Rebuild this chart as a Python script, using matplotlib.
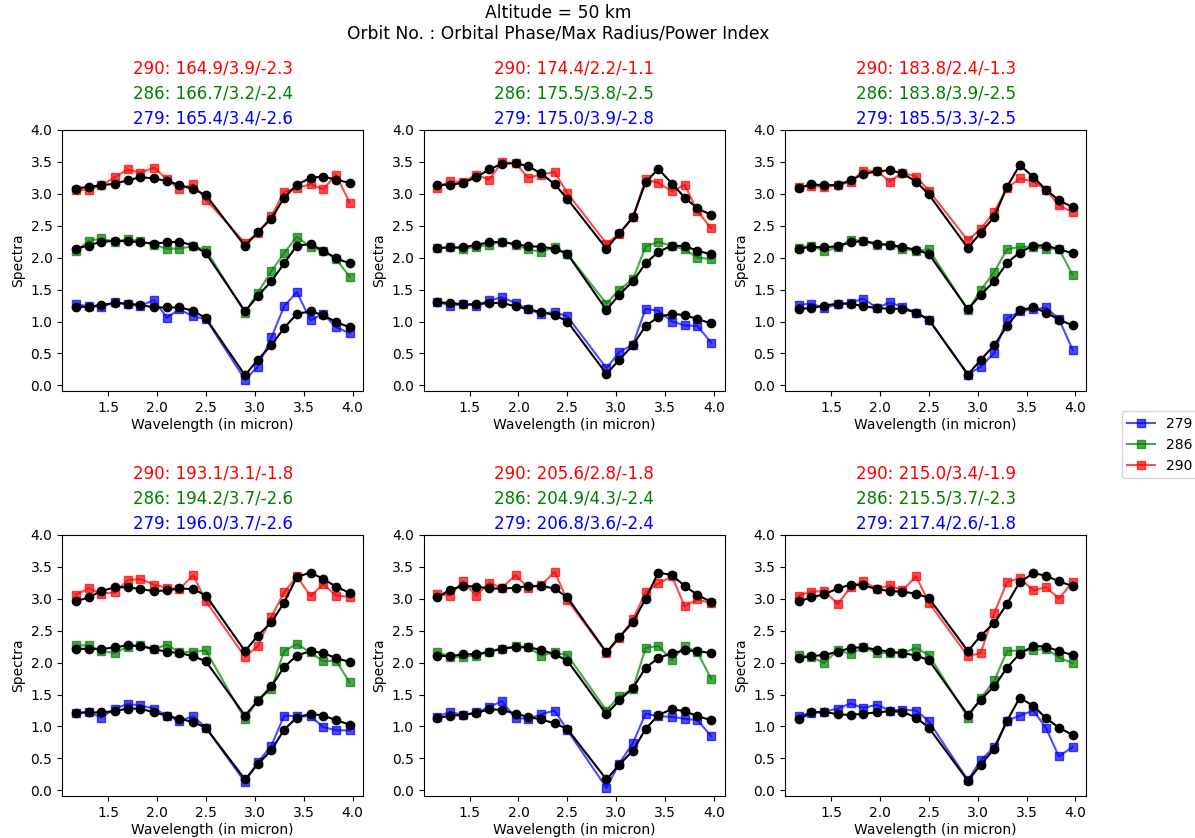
#!/usr/bin/env python3

import numpy as np
import matplotlib
matplotlib.use("Agg")
import matplotlib.pyplot as plt


wavelength = [1.17, 1.30, 1.43, 1.57, 1.70, 1.83, 1.97, 2.10, 2.23, 2.37, 2.50,
              2.90, 3.03, 3.17, 3.30, 3.43, 3.57, 3.70, 3.83, 3.97]

orbits = ["279", "286", "290"]
colors = ["blue", "green", "red"]

# title text per panel, order: 290, 286, 279
titles = [
    ["290: 164.9/3.9/-2.3", "286: 166.7/3.2/-2.4", "279: 165.4/3.4/-2.6"],
    ["290: 174.4/2.2/-1.1", "286: 175.5/3.8/-2.5", "279: 175.0/3.9/-2.8"],
    ["290: 183.8/2.4/-1.3", "286: 183.8/3.9/-2.5", "279: 185.5/3.3/-2.5"],
    ["290: 193.1/3.1/-1.8", "286: 194.2/3.7/-2.6", "279: 196.0/3.7/-2.6"],
    ["290: 205.6/2.8/-1.8", "286: 204.9/4.3/-2.4", "279: 206.8/3.6/-2.4"],
    ["290: 215.0/3.4/-1.9", "286: 215.5/3.7/-2.3", "279: 217.4/2.6/-1.8"],
]

# observed spectra per panel: [279, 286, 290]
obs_1 = [
    [1.27, 1.24, 1.23, 1.30, 1.27, 1.24, 1.34, 1.06, 1.19, 1.08, 1.04, 0.09, 0.29, 0.75, 1.24, 1.46, 1.02, 1.12, 0.91, 0.82],
    [2.10, 2.26, 2.30, 2.25, 2.29, 2.26, 2.20, 2.14, 2.14, 2.18, 2.12, 1.14, 1.45, 1.79, 2.07, 2.33, 2.16, 2.11, 1.98, 1.70],
    [3.06, 3.06, 3.13, 3.26, 3.38, 3.33, 3.41, 3.23, 3.07, 3.15, 2.91, 2.23, 2.38, 2.65, 3.03, 3.09, 3.15, 3.07, 3.30, 2.86],
]
fit_1 = [
    [1.23, 1.23, 1.26, 1.29, 1.28, 1.26, 1.22, 1.22, 1.22, 1.17, 1.05, 0.16, 0.40, 0.63, 0.90, 1.12, 1.16, 1.10, 0.99, 0.91],
    [2.14, 2.19, 2.25, 2.26, 2.26, 2.24, 2.22, 2.24, 2.25, 2.19, 2.07, 1.16, 1.40, 1.63, 1.91, 2.19, 2.21, 2.11, 1.99, 1.91],
    [3.08, 3.11, 3.13, 3.16, 3.21, 3.26, 3.24, 3.20, 3.14, 3.07, 2.98, 2.18, 2.40, 2.61, 2.94, 3.14, 3.25, 3.27, 3.22, 3.17],
]

obs_2 = [
    [1.31, 1.25, 1.27, 1.25, 1.33, 1.38, 1.29, 1.19, 1.12, 1.15, 1.08, 0.27, 0.52, 0.64, 1.20, 1.17, 1.00, 0.94, 0.93, 0.67],
    [2.15, 2.16, 2.14, 2.17, 2.20, 2.25, 2.20, 2.13, 2.09, 2.16, 2.06, 1.28, 1.50, 1.66, 2.17, 2.25, 2.18, 2.13, 2.00, 1.98],
    [3.09, 3.20, 3.18, 3.30, 3.22, 3.49, 3.48, 3.25, 3.30, 3.34, 3.01, 2.22, 2.37, 2.63, 3.23, 3.17, 3.04, 3.14, 2.73, 2.46],
]
fit_2 = [
    [1.30, 1.29, 1.27, 1.27, 1.29, 1.29, 1.24, 1.19, 1.15, 1.10, 1.00, 0.18, 0.40, 0.63, 0.93, 1.07, 1.12, 1.10, 1.04, 0.97],
    [2.15, 2.16, 2.16, 2.20, 2.24, 2.25, 2.21, 2.18, 2.17, 2.14, 2.06, 1.18, 1.42, 1.63, 1.91, 2.09, 2.19, 2.18, 2.11, 2.05],
    [3.14, 3.14, 3.17, 3.26, 3.38, 3.47, 3.48, 3.43, 3.32, 3.15, 2.92, 2.14, 2.38, 2.63, 3.18, 3.39, 3.16, 2.94, 2.77, 2.67],
]

obs_3 = [
    [1.26, 1.28, 1.21, 1.27, 1.29, 1.36, 1.21, 1.30, 1.23, 1.14, 1.03, 0.17, 0.29, 0.51, 1.05, 1.16, 1.19, 1.22, 1.04, 0.56],
    [2.15, 2.19, 2.10, 2.16, 2.28, 2.26, 2.20, 2.20, 2.13, 2.11, 2.13, 1.18, 1.49, 1.78, 2.13, 2.17, 2.17, 2.14, 2.14, 1.73],
    [3.11, 3.12, 3.11, 3.13, 3.19, 3.36, 3.36, 3.19, 3.33, 3.27, 3.05, 2.27, 2.45, 2.72, 3.09, 3.24, 3.19, 3.06, 2.82, 2.71],
]
fit_3 = [
    [1.20, 1.21, 1.25, 1.28, 1.28, 1.24, 1.21, 1.20, 1.20, 1.14, 1.03, 0.17, 0.40, 0.63, 0.93, 1.18, 1.22, 1.14, 1.03, 0.94],
    [2.14, 2.17, 2.16, 2.18, 2.24, 2.26, 2.22, 2.20, 2.17, 2.12, 2.06, 1.19, 1.42, 1.63, 1.92, 2.08, 2.19, 2.19, 2.13, 2.07],
    [3.09, 3.15, 3.13, 3.14, 3.21, 3.31, 3.35, 3.37, 3.32, 3.19, 2.99, 2.15, 2.39, 2.64, 3.11, 3.45, 3.26, 3.06, 2.90, 2.79],
]

obs_4 = [
    [1.21, 1.23, 1.14, 1.28, 1.35, 1.33, 1.28, 1.17, 1.09, 1.16, 0.98, 0.13, 0.44, 0.70, 1.17, 1.16, 1.16, 0.99, 0.94, 0.94],
    [2.27, 2.27, 2.18, 2.15, 2.25, 2.27, 2.21, 2.28, 2.16, 2.17, 2.19, 1.11, 1.41, 1.59, 2.18, 2.29, 2.16, 2.02, 2.03, 1.69],
    [3.06, 3.16, 3.08, 3.10, 3.29, 3.31, 3.22, 3.17, 3.15, 3.37, 2.96, 2.09, 2.26, 2.72, 3.10, 3.35, 3.04, 3.23, 3.05, 3.03],
]
fit_4 = [
    [1.21, 1.22, 1.22, 1.24, 1.28, 1.28, 1.22, 1.17, 1.12, 1.07, 0.98, 0.17, 0.41, 0.63, 0.95, 1.14, 1.20, 1.17, 1.10, 1.03],
    [2.21, 2.22, 2.21, 2.24, 2.27, 2.26, 2.21, 2.17, 2.15, 2.10, 2.02, 1.17, 1.40, 1.63, 1.93, 2.11, 2.18, 2.15, 2.07, 2.01],
    [2.96, 3.02, 3.12, 3.18, 3.18, 3.15, 3.12, 3.13, 3.16, 3.15, 3.05, 2.18, 2.42, 2.63, 2.94, 3.34, 3.41, 3.31, 3.19, 3.09],
]

obs_5 = [
    [1.15, 1.23, 1.18, 1.22, 1.30, 1.40, 1.13, 1.12, 1.19, 1.25, 0.94, 0.04, 0.42, 0.74, 1.20, 1.16, 1.15, 1.12, 1.10, 0.85],
    [2.17, 2.09, 2.09, 2.11, 2.17, 2.21, 2.26, 2.24, 2.11, 2.16, 2.12, 1.25, 1.47, 1.59, 2.23, 2.26, 2.04, 2.26, 2.16, 1.75],
    [3.07, 3.05, 3.27, 3.05, 3.25, 3.17, 3.37, 3.17, 3.21, 3.42, 2.98, 2.15, 2.38, 2.68, 3.10, 3.24, 3.35, 2.88, 2.99, 2.93],
]
fit_5 = [
    [1.13, 1.17, 1.18, 1.21, 1.27, 1.26, 1.20, 1.15, 1.11, 1.05, 0.96, 0.17, 0.40, 0.62, 0.96, 1.18, 1.27, 1.24, 1.16, 1.10],
    [2.11, 2.10, 2.13, 2.13, 2.17, 2.22, 2.24, 2.24, 2.20, 2.13, 2.03, 1.19, 1.41, 1.60, 1.92, 2.07, 2.15, 2.19, 2.18, 2.15],
    [3.02, 3.14, 3.20, 3.19, 3.16, 3.16, 3.17, 3.20, 3.20, 3.16, 3.02, 2.16, 2.40, 2.63, 3.00, 3.41, 3.37, 3.20, 3.06, 2.95],
]

obs_6 = [
    [1.17, 1.21, 1.23, 1.28, 1.36, 1.29, 1.34, 1.25, 1.26, 1.25, 1.08, 0.16, 0.47, 0.68, 1.09, 1.17, 1.25, 0.97, 0.53, 0.68],
    [2.12, 2.09, 1.99, 2.20, 2.13, 2.24, 2.15, 2.15, 2.15, 2.23, 2.12, 1.14, 1.44, 1.72, 2.18, 2.19, 2.19, 2.22, 2.08, 1.99],
    [3.05, 3.11, 3.12, 2.92, 3.18, 3.28, 3.15, 3.21, 3.13, 3.35, 2.94, 2.10, 2.15, 2.78, 3.26, 3.32, 3.13, 3.18, 3.00, 3.26],
]
fit_6 = [
    [1.11, 1.22, 1.23, 1.19, 1.18, 1.20, 1.22, 1.24, 1.23, 1.14, 0.98, 0.15, 0.40, 0.65, 1.09, 1.45, 1.32, 1.13, 0.98, 0.87],
    [2.07, 2.10, 2.12, 2.17, 2.23, 2.24, 2.20, 2.17, 2.15, 2.11, 2.04, 1.18, 1.42, 1.63, 1.92, 2.14, 2.26, 2.25, 2.18, 2.12],
    [2.96, 3.02, 3.07, 3.16, 3.22, 3.21, 3.15, 3.12, 3.11, 3.08, 3.01, 2.18, 2.42, 2.62, 2.92, 3.26, 3.40, 3.36, 3.27, 3.20],
]

obs_all = [obs_1, obs_2, obs_3, obs_4, obs_5, obs_6]
fit_all = [fit_1, fit_2, fit_3, fit_4, fit_5, fit_6]


def main():
    fig, axes = plt.subplots(2, 3, figsize=(11.95, 8.38), dpi=100)
    fig.subplots_adjust(left=0.052, right=0.909, bottom=0.050, top=0.845,
                        wspace=0.2, hspace=0.55)

    for i, ax in enumerate(axes.flat):
        obs = obs_all[i]
        fit = fit_all[i]
        for k in range(3):
            ax.plot(wavelength, obs[k], "s-", color=colors[k], alpha=0.7,
                    markersize=6, label=orbits[k])
            ax.plot(wavelength, fit[k], "o-", color="black", markersize=6)
        ax.set_ylim(-0.09, 4.0)
        ax.set_yticks(np.arange(0, 4.01, 0.5))
        ax.set_xlabel("Wavelength (in micron)", labelpad=2)
        ax.set_ylabel("Spectra")

        # three coloured title lines
        tcols = ["red", "green", "blue"]
        offs = [44.5, 26.5, 8.0]
        for t, c, o in zip(titles[i], tcols, offs):
            ax.annotate(t, xy=(0.5, 1.0), xycoords="axes fraction",
                        xytext=(0, o), textcoords="offset points",
                        ha="center", va="center", color=c, fontsize=12)

    handles, labels = axes[0, 0].get_legend_handles_labels()
    fig.legend(handles, labels, loc="center left",
               bbox_to_anchor=(0.933, 0.469))

    fig.suptitle("Altitude = 50 km\nOrbit No. : Orbital Phase/Max Radius/Power Index",
                 x=0.467, y=0.995, fontsize=12.3)

    plt.savefig("out.png", dpi=100)

    return 0


if __name__ == '__main__':
    main()
